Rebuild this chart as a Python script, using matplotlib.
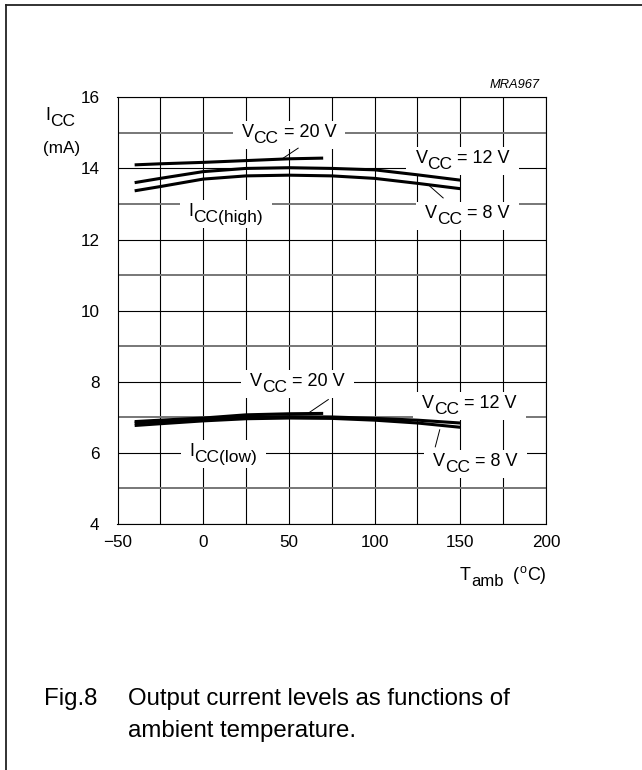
import numpy as np
import matplotlib.pyplot as plt
from matplotlib.lines import Line2D
from matplotlib.patches import Rectangle
from matplotlib.transforms import IdentityTransform

plt.rcParams['font.family'] = ['Liberation Sans', 'DejaVu Sans']

# T_amb (deg C) and I_CC (mA)
t_full = [-40, -25, 0, 25, 50, 75, 100, 125, 150]
t_20v = [-40, -25, 0, 25, 50, 70]

icc_high_20v = [14.10, 14.13, 14.17, 14.22, 14.27, 14.29]
icc_high_12v = [13.60, 13.72, 13.91, 14.00, 14.02, 14.00, 13.96, 13.82, 13.67]
icc_high_8v = [13.37, 13.49, 13.70, 13.79, 13.81, 13.79, 13.72, 13.58, 13.43]

icc_low_20v = [6.88, 6.92, 6.98, 7.07, 7.10, 7.11]
icc_low_12v = [6.84, 6.88, 6.95, 7.01, 7.02, 7.01, 6.97, 6.92, 6.84]
icc_low_8v = [6.77, 6.82, 6.90, 6.96, 6.98, 6.97, 6.92, 6.84, 6.72]

x_ticks = [-50, 0, 50, 100, 150, 200]
x_ticklabels = ['\u221250', '0', '50', '100', '150', '200']
y_ticks = [4, 6, 8, 10, 12, 14, 16]

W, H = 642, 770
fig = plt.figure(figsize=(W / 100, H / 100), dpi=100)
ax = fig.add_axes([117.5 / W, 1 - 524 / H, (546 - 117.5) / W, (524 - 97.3) / H])

# curves
for t, i in [(t_20v, icc_high_20v), (t_full, icc_high_12v), (t_full, icc_high_8v),
             (t_20v, icc_low_20v), (t_full, icc_low_12v), (t_full, icc_low_8v)]:
    ax.plot(t, i, color='k', lw=2.2, solid_capstyle='butt', zorder=4)

ax.set_xlim(-50, 200)
ax.set_ylim(4, 16)
ax.set_xticks(x_ticks)
ax.set_xticklabels(x_ticklabels)
ax.set_xticks(np.arange(-25, 200, 50), minor=True)
ax.set_yticks(y_ticks)
ax.set_yticks(np.arange(5, 16, 2), minor=True)
ax.tick_params(which='both', length=0)
ax.tick_params(axis='x', pad=8, labelsize=12.3)
ax.tick_params(axis='y', pad=13, labelsize=12.3)
ax.grid(which='major', color='k', lw=0.8, zorder=1)
ax.grid(which='minor', axis='x', color='k', lw=0.8, zorder=1)
ax.grid(which='minor', axis='y', color='#777777', lw=1.4, zorder=1)
ax.set_axisbelow(True)
for s in ax.spines.values():
    s.set_linewidth(0.8)

px = IdentityTransform()
renderer = fig.canvas.get_renderer()


def width_px(s, size):
    t = fig.text(0, 0, s, fontsize=size)
    w = t.get_window_extent(renderer).width
    t.remove()
    return w


def rich_text(target, x, y, parts, ha='center', box=False):
    # x, y in display pixels (baseline); parts = (text, size, dy, gap before)
    widths = [width_px(p[0], p[1]) for p in parts]
    total = sum(widths) + sum(p[3] for p in parts)
    cur = x - total / 2 if ha == 'center' else x
    left = cur
    for (s, size, dy, gap), w in zip(parts, widths):
        cur += gap
        target.text(cur, y + dy, s, fontsize=size, transform=px,
                    ha='left', va='baseline', zorder=3.5)
        cur += w
    if box:
        target.add_patch(Rectangle((left - 9, y - 12), total + 18, 28, transform=px,
                                   fc='white', ec='none', zorder=3))


def vcc(v):
    return [('V', 13, 0, 0), ('CC', 12.5, -6, -0.5), ('= %d V' % v, 13, 0, 5.5)]


def icc(which):
    return [('I', 13, 0, 0), ('CC(%s)' % which, 12.5, -6, 0)]


# (T, I) of each label's baseline centre
labels = [
    (50.1, 14.88, vcc(20)),
    (151.4, 14.16, vcc(12)),
    (154.3, 12.60, vcc(8)),
    (13.2, 12.65, icc('high')),
    (55.1, 7.87, vcc(20)),
    (155.3, 7.26, vcc(12)),
    (158.8, 5.64, vcc(8)),
    (11.8, 5.92, icc('low')),
]
for t, i, parts in labels:
    dx, dy = ax.transData.transform((t, i))
    rich_text(ax, dx, dy, parts, box=True)

leaders = [
    ([55.4, 46.7], [14.57, 14.29]),
    ([131.3, 140], [13.54, 13.17]),
    ([73, 61.4], [7.5, 7.12]),
    ([138, 135.4], [6.65, 6.17]),
]
for lx, ly in leaders:
    ax.plot(lx, ly, color='k', lw=0.7, zorder=5)

# axis titles, pixel positions measured from the top left
rich_text(fig, 45, H - 120, [('I', 13, 0, 0), ('CC', 12.5, -6, 0)], ha='left')
fig.text(61.5 / W, 1 - 153 / H, '(mA)', fontsize=12.3, ha='center', va='baseline')
rich_text(fig, 460, H - 580, [('T', 13, 0, 0), ('amb', 12, -6, 0), ('(', 13, 0, 10),
                              ('o', 9, 7, 0), ('C)', 13, 0, 0.5)], ha='left')
fig.text(540 / W, 1 - 85 / H, 'MRA967', fontsize=9.3, style='italic', ha='right', va='center')

# caption
fig.text(44 / W, 1 - 705 / H, 'Fig.8', fontsize=17.3, ha='left', va='baseline')
fig.text(128 / W, 1 - 705 / H, 'Output current levels as functions of', fontsize=17.3,
         ha='left', va='baseline')
fig.text(128 / W, 1 - 737 / H, 'ambient temperature.', fontsize=17.3, ha='left', va='baseline')

# page frame (top and left only)
fig.add_artist(Line2D([6 / W, 1], [1 - 5.3 / H, 1 - 5.3 / H], color='#222222', lw=1.3))
fig.add_artist(Line2D([6 / W, 6 / W], [1 - 5.3 / H, 0], color='#222222', lw=1.3))

fig.savefig('out.png', dpi=100)
